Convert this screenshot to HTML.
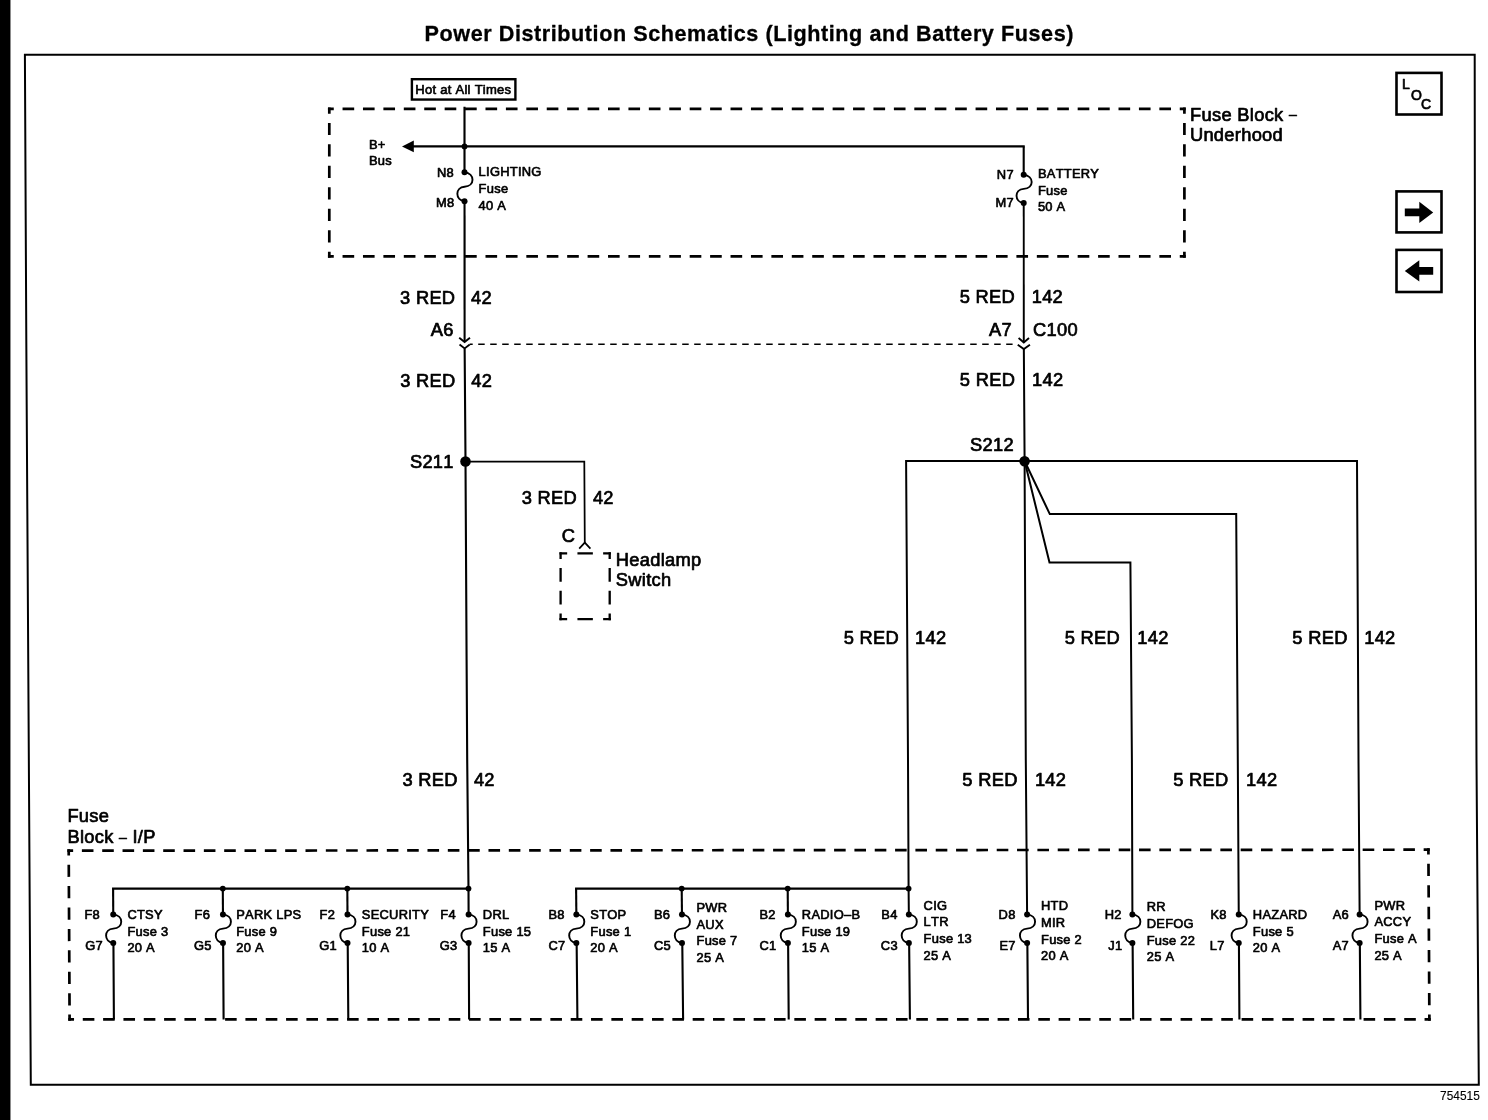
<!DOCTYPE html>
<html lang="en">
<head>
<meta charset="utf-8">
<title>Power Distribution Schematics (Lighting and Battery Fuses)</title>
<style>
html,body{margin:0;padding:0;background:#fff;}
body{width:1488px;height:1120px;overflow:hidden;position:relative;}
svg{position:absolute;left:0;top:0;display:block;}
svg text{font-family:"Liberation Sans",Arial,Helvetica,sans-serif;fill:#000;stroke:#000;stroke-width:0.7px;stroke-linejoin:round;letter-spacing:0.3px;font-kerning:none;}
svg text.sm{stroke-width:0.65px;letter-spacing:0.27px;}
svg text.idn{stroke-width:0.12px;letter-spacing:0;}
svg text#title{letter-spacing:0;stroke-width:0.3px;}
</style>
</head>
<body>
<svg width="1488" height="1120" viewBox="0 0 1488 1120">
<rect x="0" y="0" width="10.45" height="1120" fill="#000"/>
<g stroke="#000" stroke-linecap="butt" stroke-linejoin="miter" fill="none">
<polygon points="24.9,54.7 26.3,340 30.8,1084.8 1478.8,1084.8 1476.5,760 1475,340 1474.7,54.7" fill="none" stroke-width="2.0"/>
<text x="424.6" y="40.5" font-size="21.6" font-weight="bold" textLength="648.8" lengthAdjust="spacing" id="title">Power Distribution Schematics (Lighting and Battery Fuses)</text>
<rect x="411.9" y="79.2" width="103.5" height="20.35" fill="#fff" stroke-width="2.4"/>
<text x="463.35" y="94.3" font-size="13" text-anchor="middle" class="sm">Hot at All Times</text>
<line x1="327.95" y1="108.9" x2="1185.75" y2="108.9" stroke-width="2.7" stroke-dasharray="11.64 8.78" stroke-dashoffset="5.82"/>
<line x1="327.95" y1="256.4" x2="1185.75" y2="256.4" stroke-width="2.7" stroke-dasharray="11.64 8.78" stroke-dashoffset="5.82"/>
<line x1="329.3" y1="107.55" x2="329.3" y2="257.75" stroke-width="2.7" stroke-dasharray="12.23 9.23" stroke-dashoffset="6.12"/>
<line x1="1184.4" y1="107.55" x2="1184.4" y2="257.75" stroke-width="2.7" stroke-dasharray="12.23 9.23" stroke-dashoffset="6.12"/>
<text x="1190.1" y="120.5" font-size="18.3">Fuse Block <tspan font-size="14" dy="-1.2">–</tspan></text>
<text x="1189.9" y="141.2" font-size="18.3">Underhood</text>
<line x1="464.5" y1="106.8" x2="464.53" y2="172.3" stroke-width="2.1"/>
<line x1="413" y1="146.4" x2="1024.75" y2="146.4" stroke-width="2.1"/>
<polygon points="402,146.4 413.8,140.6 413.8,152.2" fill="#000" stroke="none"/>
<circle cx="464.52" cy="146.4" r="2.9" fill="#000" stroke="none"/>
<text x="369" y="148.8" font-size="12.9" class="sm">B+</text>
<text x="369" y="165.2" font-size="12.9" class="sm">Bus</text>
<path d="M464.53,172.3 C475.17,173.3 475.17,186.25 464.53,186.75 C454.95,187.25 454.95,200.2 464.53,201.2" stroke-width="1.9" fill="none"/>
<circle cx="464.53" cy="172.3" r="3" fill="#000" stroke="none"/>
<circle cx="464.53" cy="201.2" r="3" fill="#000" stroke="none"/>
<text x="437" y="176.5" font-size="12.9" class="sm">N8</text>
<text x="435.9" y="206.9" font-size="12.9" class="sm">M8</text>
<text x="478.6" y="176.3" font-size="12.9" class="sm">LIGHTING</text>
<text x="478.6" y="192.9" font-size="12.9" class="sm">Fuse</text>
<text x="478.6" y="209.6" font-size="12.9" class="sm">40 A</text>
<line x1="464.54" y1="201.2" x2="464.6" y2="342" stroke-width="2.1"/>
<polyline points="464.64,348.4 465.5,461 466.6,660 467.2,760 468.5,889 468.62,914.4" stroke-width="2.1" fill="none"/>
<line x1="1023.7" y1="146.4" x2="1023.71" y2="174.8" stroke-width="2.1"/>
<path d="M1023.71,174.8 C1034.35,175.8 1034.35,188.4 1023.71,188.9 C1014.14,189.4 1014.14,202 1023.71,203" stroke-width="1.9" fill="none"/>
<circle cx="1023.71" cy="174.8" r="3" fill="#000" stroke="none"/>
<circle cx="1023.71" cy="203" r="3" fill="#000" stroke="none"/>
<text x="996.8" y="179.2" font-size="12.9" class="sm">N7</text>
<text x="995.4" y="207.4" font-size="12.9" class="sm">M7</text>
<text x="1037.9" y="177.8" font-size="12.9" class="sm">BATTERY</text>
<text x="1037.9" y="194.5" font-size="12.9" class="sm">Fuse</text>
<text x="1037.9" y="211.3" font-size="12.9" class="sm">50 A</text>
<line x1="1023.73" y1="203" x2="1023.8" y2="342.5" stroke-width="1.9"/>
<polyline points="1023.84,349 1024.6,461 1025.8,760 1027.1,914 1027.1,914.4" stroke-width="2" fill="none"/>
<text x="455.4" y="303.6" font-size="18.3" text-anchor="end">3 RED</text>
<text x="471" y="303.6" font-size="18.3">42</text>
<text x="453.7" y="336.2" font-size="18.3" text-anchor="end">A6</text>
<text x="455.5" y="387" font-size="18.3" text-anchor="end">3 RED</text>
<text x="471.3" y="387" font-size="18.3">42</text>
<text x="1015" y="303.4" font-size="18.3" text-anchor="end">5 RED</text>
<text x="1031.7" y="303.4" font-size="18.3">142</text>
<text x="1012" y="335.6" font-size="18.3" text-anchor="end">A7</text>
<text x="1033" y="335.6" font-size="18.3">C100</text>
<text x="1015.2" y="386.3" font-size="18.3" text-anchor="end">5 RED</text>
<text x="1032" y="386.3" font-size="18.3">142</text>
<polyline points="459.2,337.7 464.6,342 470,337.7" stroke-width="1.9" fill="none"/>
<polyline points="459.54,344.6 464.64,348.4 469.74,344.6" stroke-width="1.9" fill="none"/>
<polyline points="1018.6,338.1 1023.8,342.5 1029,338.1" stroke-width="1.9" fill="none"/>
<polyline points="1017.74,344.8 1023.84,349 1029.94,344.8" stroke-width="1.9" fill="none"/>
<line x1="469.8" y1="344.2" x2="1012.6" y2="344.2" stroke-width="1.55" stroke-dasharray="6.5 5.5" stroke-dashoffset="3.6"/>
<circle cx="465.5" cy="461.5" r="5.3" fill="#000" stroke="none"/>
<text x="453.8" y="467.6" font-size="18.3" text-anchor="end">S211</text>
<polyline points="465.5,461.5 584.3,461.5 584.8,543.2" stroke-width="1.75" fill="none"/>
<polyline points="579.2,548.6 584.8,542.6 590.4,548.6" stroke-width="1.7" fill="none"/>
<text x="577" y="503.9" font-size="18.3" text-anchor="end">3 RED</text>
<text x="592.9" y="503.9" font-size="18.3">42</text>
<text x="561.8" y="542.4" font-size="18.3">C</text>
<line x1="559.45" y1="553.3" x2="610.85" y2="553.3" stroke-width="2.3" stroke-dasharray="15.42 10.28" stroke-dashoffset="7.71"/>
<line x1="559.45" y1="619.2" x2="610.85" y2="619.2" stroke-width="2.3" stroke-dasharray="15.42 10.28" stroke-dashoffset="7.71"/>
<line x1="560.6" y1="552.15" x2="560.6" y2="620.35" stroke-width="2.3" stroke-dasharray="13.64 9.09" stroke-dashoffset="6.82"/>
<line x1="609.7" y1="552.15" x2="609.7" y2="620.35" stroke-width="2.3" stroke-dasharray="13.64 9.09" stroke-dashoffset="6.82"/>
<text x="615.8" y="565.8" font-size="18.3">Headlamp</text>
<text x="615.8" y="586.3" font-size="18.3">Switch</text>
<circle cx="1024.6" cy="461.2" r="5.3" fill="#000" stroke="none"/>
<text x="1014" y="451" font-size="18.3" text-anchor="end">S212</text>
<polyline points="908.85,914.4 908.6,889 908,760 906.1,461 1357,461 1358.5,760 1359.63,914.4" stroke-width="2" fill="none"/>
<polyline points="1024.6,461 1049.8,514.1 1236.2,514.1 1237.8,760 1238.75,914.4" stroke-width="2" fill="none"/>
<polyline points="1024.6,461 1049.5,562.5 1130.4,562.5 1131.9,760 1132.4,914 1132.4,914.4" stroke-width="2" fill="none"/>
<text x="899.1" y="644" font-size="18.3" text-anchor="end">5 RED</text>
<text x="915" y="644" font-size="18.3">142</text>
<text x="1120" y="644" font-size="18.3" text-anchor="end">5 RED</text>
<text x="1137.3" y="644" font-size="18.3">142</text>
<text x="1347.7" y="644" font-size="18.3" text-anchor="end">5 RED</text>
<text x="1364.2" y="644" font-size="18.3">142</text>
<text x="457.8" y="786.4" font-size="18.3" text-anchor="end">3 RED</text>
<text x="473.9" y="786.4" font-size="18.3">42</text>
<text x="1017.7" y="786.2" font-size="18.3" text-anchor="end">5 RED</text>
<text x="1034.9" y="786.2" font-size="18.3">142</text>
<text x="1228.6" y="785.8" font-size="18.3" text-anchor="end">5 RED</text>
<text x="1246.1" y="785.8" font-size="18.3">142</text>
<text x="67.4" y="822.4" font-size="18.3">Fuse</text>
<text x="67.4" y="842.9" font-size="18.3">Block <tspan font-size="14" dy="-1.2">–</tspan><tspan dy="1.2"> I/P</tspan></text>
<line x1="67.35" y1="850.7" x2="1429.75" y2="849.7" stroke-width="2.7" stroke-dasharray="11.59 8.74" stroke-dashoffset="5.8"/>
<line x1="68.25" y1="1019.4" x2="1430.75" y2="1019.4" stroke-width="2.7" stroke-dasharray="11.59 8.74" stroke-dashoffset="5.8"/>
<line x1="68.7" y1="849.35" x2="69.6" y2="1020.75" stroke-width="2.7" stroke-dasharray="12.21 9.21" stroke-dashoffset="6.11"/>
<line x1="1428.4" y1="848.35" x2="1429.4" y2="1020.75" stroke-width="2.7" stroke-dasharray="12.28 9.27" stroke-dashoffset="6.14"/>
<line x1="112.05" y1="888.6" x2="468.5" y2="888.6" stroke-width="2.1"/>
<line x1="575.05" y1="888.6" x2="908.6" y2="888.6" stroke-width="2.1"/>
<circle cx="222.8" cy="888.6" r="2.9" fill="#000" stroke="none"/>
<circle cx="347.3" cy="888.6" r="2.9" fill="#000" stroke="none"/>
<circle cx="468.5" cy="888.6" r="2.9" fill="#000" stroke="none"/>
<circle cx="681.7" cy="888.6" r="2.9" fill="#000" stroke="none"/>
<circle cx="787.7" cy="888.6" r="2.9" fill="#000" stroke="none"/>
<circle cx="908.6" cy="888.6" r="2.9" fill="#000" stroke="none"/>
<line x1="113.1" y1="888.6" x2="113.26" y2="914.4" stroke-width="2.1"/>
<line x1="222.8" y1="888.6" x2="222.96" y2="914.4" stroke-width="2.1"/>
<line x1="347.3" y1="888.6" x2="347.5" y2="914.4" stroke-width="2.1"/>
<line x1="576.1" y1="888.6" x2="576.35" y2="914.4" stroke-width="2.1"/>
<line x1="681.7" y1="888.6" x2="681.97" y2="914.4" stroke-width="2.1"/>
<line x1="787.7" y1="888.6" x2="787.9" y2="914.4" stroke-width="2.1"/>
<path d="M113.26,914.4 C123.9,915.4 123.9,928.15 113.26,928.65 C103.68,929.15 103.68,941.9 113.26,942.9" stroke-width="1.9" fill="none"/>
<circle cx="113.26" cy="914.4" r="3" fill="#000" stroke="none"/>
<circle cx="113.26" cy="942.9" r="3" fill="#000" stroke="none"/>
<polyline points="113.43,942.9 113.9,1019 113.9,1019.4" stroke-width="2.1" fill="none"/>
<text x="84.4" y="919.2" font-size="12.9" class="sm">F8</text>
<text x="85.2" y="950" font-size="12.9" class="sm">G7</text>
<text x="127.4" y="918.8" font-size="12.9" class="sm">CTSY</text>
<text x="127.4" y="935.5" font-size="12.9" class="sm">Fuse 3</text>
<text x="127.4" y="952.2" font-size="12.9" class="sm">20 A</text>
<path d="M222.96,914.4 C233.6,915.4 233.6,928.15 222.96,928.65 C213.38,929.15 213.38,941.9 222.96,942.9" stroke-width="1.9" fill="none"/>
<circle cx="222.96" cy="914.4" r="3" fill="#000" stroke="none"/>
<circle cx="222.96" cy="942.9" r="3" fill="#000" stroke="none"/>
<polyline points="223.13,942.9 223.6,1019 223.6,1019.4" stroke-width="2.1" fill="none"/>
<text x="194.6" y="919.2" font-size="12.9" class="sm">F6</text>
<text x="194" y="950" font-size="12.9" class="sm">G5</text>
<text x="236.2" y="918.8" font-size="12.9" class="sm">PARK LPS</text>
<text x="236.2" y="935.5" font-size="12.9" class="sm">Fuse 9</text>
<text x="236.2" y="952.2" font-size="12.9" class="sm">20 A</text>
<path d="M347.5,914.4 C358.14,915.4 358.14,928.15 347.5,928.65 C337.92,929.15 337.92,941.9 347.5,942.9" stroke-width="1.9" fill="none"/>
<circle cx="347.5" cy="914.4" r="3" fill="#000" stroke="none"/>
<circle cx="347.5" cy="942.9" r="3" fill="#000" stroke="none"/>
<polyline points="347.71,942.9 348.3,1019 348.3,1019.4" stroke-width="2.1" fill="none"/>
<text x="319.6" y="919.2" font-size="12.9" class="sm">F2</text>
<text x="319.2" y="950" font-size="12.9" class="sm">G1</text>
<text x="361.8" y="918.8" font-size="12.9" class="sm">SECURITY</text>
<text x="361.8" y="935.5" font-size="12.9" class="sm">Fuse 21</text>
<text x="361.8" y="952.2" font-size="12.9" class="sm">10 A</text>
<path d="M468.62,914.4 C479.26,915.4 479.26,928.15 468.62,928.65 C459.04,929.15 459.04,941.9 468.62,942.9" stroke-width="1.9" fill="none"/>
<circle cx="468.62" cy="914.4" r="3" fill="#000" stroke="none"/>
<circle cx="468.62" cy="942.9" r="3" fill="#000" stroke="none"/>
<polyline points="468.75,942.9 469.1,1019 469.1,1019.4" stroke-width="2.1" fill="none"/>
<text x="440.3" y="919.2" font-size="12.9" class="sm">F4</text>
<text x="439.8" y="950" font-size="12.9" class="sm">G3</text>
<text x="482.8" y="918.8" font-size="12.9" class="sm">DRL</text>
<text x="482.8" y="935.5" font-size="12.9" class="sm">Fuse 15</text>
<text x="482.8" y="952.2" font-size="12.9" class="sm">15 A</text>
<path d="M576.35,914.4 C586.99,915.4 586.99,928.15 576.35,928.65 C566.78,929.15 566.78,941.9 576.35,942.9" stroke-width="1.9" fill="none"/>
<circle cx="576.35" cy="914.4" r="3" fill="#000" stroke="none"/>
<circle cx="576.35" cy="942.9" r="3" fill="#000" stroke="none"/>
<polyline points="576.64,942.9 577.4,1019 577.4,1019.4" stroke-width="2.1" fill="none"/>
<text x="548.4" y="919.2" font-size="12.9" class="sm">B8</text>
<text x="548.4" y="950" font-size="12.9" class="sm">C7</text>
<text x="590.3" y="918.8" font-size="12.9" class="sm">STOP</text>
<text x="590.3" y="935.5" font-size="12.9" class="sm">Fuse 1</text>
<text x="590.3" y="952.2" font-size="12.9" class="sm">20 A</text>
<path d="M681.97,914.4 C692.61,915.4 692.61,928.15 681.97,928.65 C672.4,929.15 672.4,941.9 681.97,942.9" stroke-width="1.9" fill="none"/>
<circle cx="681.97" cy="914.4" r="3" fill="#000" stroke="none"/>
<circle cx="681.97" cy="942.9" r="3" fill="#000" stroke="none"/>
<polyline points="682.28,942.9 683.1,1019 683.1,1019.4" stroke-width="2.1" fill="none"/>
<text x="654" y="919.2" font-size="12.9" class="sm">B6</text>
<text x="654" y="950" font-size="12.9" class="sm">C5</text>
<text x="696.5" y="911.8" font-size="12.9" class="sm">PWR</text>
<text x="696.5" y="928.6" font-size="12.9" class="sm">AUX</text>
<text x="696.5" y="945.3" font-size="12.9" class="sm">Fuse 7</text>
<text x="696.5" y="962.1" font-size="12.9" class="sm">25 A</text>
<path d="M787.9,914.4 C798.54,915.4 798.54,928.15 787.9,928.65 C778.32,929.15 778.32,941.9 787.9,942.9" stroke-width="1.9" fill="none"/>
<circle cx="787.9" cy="914.4" r="3" fill="#000" stroke="none"/>
<circle cx="787.9" cy="942.9" r="3" fill="#000" stroke="none"/>
<polyline points="788.11,942.9 788.7,1019 788.7,1019.4" stroke-width="2.1" fill="none"/>
<text x="759.5" y="919.2" font-size="12.9" class="sm">B2</text>
<text x="759.5" y="950" font-size="12.9" class="sm">C1</text>
<text x="801.8" y="918.8" font-size="12.9" class="sm">RADIO–B</text>
<text x="801.8" y="935.5" font-size="12.9" class="sm">Fuse 19</text>
<text x="801.8" y="952.2" font-size="12.9" class="sm">15 A</text>
<path d="M908.85,914.4 C919.49,915.4 919.49,928.15 908.85,928.65 C899.28,929.15 899.28,941.9 908.85,942.9" stroke-width="1.9" fill="none"/>
<circle cx="908.85" cy="914.4" r="3" fill="#000" stroke="none"/>
<circle cx="908.85" cy="942.9" r="3" fill="#000" stroke="none"/>
<polyline points="909.14,942.9 909.9,1019 909.9,1019.4" stroke-width="2.1" fill="none"/>
<text x="881.3" y="919.2" font-size="12.9" class="sm">B4</text>
<text x="880.8" y="950" font-size="12.9" class="sm">C3</text>
<text x="923.6" y="909.5" font-size="12.9" class="sm">CIG</text>
<text x="923.6" y="926.3" font-size="12.9" class="sm">LTR</text>
<text x="923.6" y="943" font-size="12.9" class="sm">Fuse 13</text>
<text x="923.6" y="959.8" font-size="12.9" class="sm">25 A</text>
<path d="M1027.1,914.4 C1037.74,915.4 1037.74,928.15 1027.1,928.65 C1017.53,929.15 1017.53,941.9 1027.1,942.9" stroke-width="1.9" fill="none"/>
<circle cx="1027.1" cy="914.4" r="3" fill="#000" stroke="none"/>
<circle cx="1027.1" cy="942.9" r="3" fill="#000" stroke="none"/>
<polyline points="1027.35,942.9 1028,1019 1028,1019.4" stroke-width="2.1" fill="none"/>
<text x="998.6" y="919.2" font-size="12.9" class="sm">D8</text>
<text x="999.4" y="950" font-size="12.9" class="sm">E7</text>
<text x="1041" y="910.1" font-size="12.9" class="sm">HTD</text>
<text x="1041" y="926.9" font-size="12.9" class="sm">MIR</text>
<text x="1041" y="943.6" font-size="12.9" class="sm">Fuse 2</text>
<text x="1041" y="960.4" font-size="12.9" class="sm">20 A</text>
<path d="M1132.4,914.4 C1143.04,915.4 1143.04,928.15 1132.4,928.65 C1122.83,929.15 1122.83,941.9 1132.4,942.9" stroke-width="1.9" fill="none"/>
<circle cx="1132.4" cy="914.4" r="3" fill="#000" stroke="none"/>
<circle cx="1132.4" cy="942.9" r="3" fill="#000" stroke="none"/>
<polyline points="1132.62,942.9 1133.2,1019 1133.2,1019.4" stroke-width="2.1" fill="none"/>
<text x="1104.7" y="919.2" font-size="12.9" class="sm">H2</text>
<text x="1108.2" y="950" font-size="12.9" class="sm">J1</text>
<text x="1146.7" y="911" font-size="12.9" class="sm">RR</text>
<text x="1146.7" y="927.8" font-size="12.9" class="sm">DEFOG</text>
<text x="1146.7" y="944.5" font-size="12.9" class="sm">Fuse 22</text>
<text x="1146.7" y="961.3" font-size="12.9" class="sm">25 A</text>
<path d="M1238.75,914.4 C1249.39,915.4 1249.39,928.15 1238.75,928.65 C1229.18,929.15 1229.18,941.9 1238.75,942.9" stroke-width="1.9" fill="none"/>
<circle cx="1238.75" cy="914.4" r="3" fill="#000" stroke="none"/>
<circle cx="1238.75" cy="942.9" r="3" fill="#000" stroke="none"/>
<polyline points="1238.93,942.9 1239.4,1019 1239.4,1019.4" stroke-width="2.1" fill="none"/>
<text x="1210.4" y="919.2" font-size="12.9" class="sm">K8</text>
<text x="1209.8" y="950" font-size="12.9" class="sm">L7</text>
<text x="1252.8" y="918.8" font-size="12.9" class="sm">HAZARD</text>
<text x="1252.8" y="935.5" font-size="12.9" class="sm">Fuse 5</text>
<text x="1252.8" y="952.2" font-size="12.9" class="sm">20 A</text>
<path d="M1359.63,914.4 C1370.27,915.4 1370.27,928.15 1359.63,928.65 C1350.06,929.15 1350.06,941.9 1359.63,942.9" stroke-width="1.9" fill="none"/>
<circle cx="1359.63" cy="914.4" r="3" fill="#000" stroke="none"/>
<circle cx="1359.63" cy="942.9" r="3" fill="#000" stroke="none"/>
<polyline points="1359.84,942.9 1360.4,1019 1360.4,1019.4" stroke-width="2.1" fill="none"/>
<text x="1332.7" y="919.2" font-size="12.9" class="sm">A6</text>
<text x="1332.7" y="950" font-size="12.9" class="sm">A7</text>
<text x="1374.4" y="909.5" font-size="12.9" class="sm">PWR</text>
<text x="1374.4" y="926.3" font-size="12.9" class="sm">ACCY</text>
<text x="1374.4" y="943" font-size="12.9" class="sm">Fuse A</text>
<text x="1374.4" y="959.8" font-size="12.9" class="sm">25 A</text>
<rect x="1396.5" y="72.9" width="45" height="41.6" fill="none" stroke-width="2.6"/>
<text x="1402" y="89.2" font-size="14">L</text>
<text x="1410.9" y="99.7" font-size="14">O</text>
<text x="1421" y="109.1" font-size="14">C</text>
<rect x="1396.5" y="191.4" width="45" height="41" fill="none" stroke-width="2.6"/>
<polygon points="1404.8,208.4 1419.3,208.4 1419.3,201.7 1433.2,212.4 1419.3,223 1419.3,216.3 1404.8,216.3" fill="#000" stroke="none"/>
<rect x="1396.5" y="249.9" width="45" height="42.1" fill="none" stroke-width="2.6"/>
<polygon points="1433.2,267.1 1419.3,267.1 1419.3,260.2 1404.8,270.9 1419.3,281.4 1419.3,274.7 1433.2,274.7" fill="#000" stroke="none"/>
<text x="1479.8" y="1099.7" font-size="11.9" text-anchor="end" class="idn">754515</text>
</g>
</svg>
</body>
</html>
